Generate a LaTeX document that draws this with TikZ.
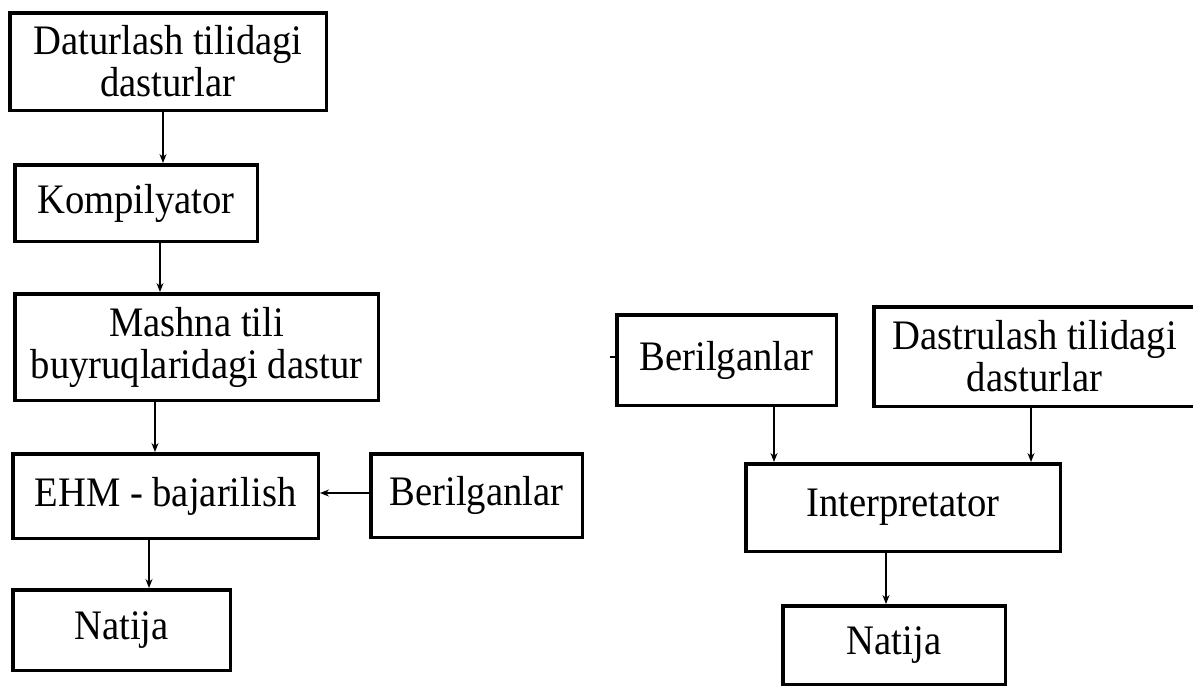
\documentclass[tikz,border=0pt]{standalone}
\usepackage{fontspec}
\setmainfont[FakeStretch=0.92]{Liberation Serif}
\usetikzlibrary{arrows.meta}
\begin{document}
\begin{tikzpicture}[x=1pt,y=-1pt,
  box/.style={draw=black,line width=3.5pt,rectangle,inner sep=0pt,align=center,
    font=\fontsize{42}{42}\selectfont},
  arr/.style={line width=1.3pt,-{Stealth[length=9pt,width=7pt]}}]
\useasboundingbox[fill=white] (0,0) rectangle (1193,688);
% left column
\node[box,minimum width=316.5pt,minimum height=97.5pt] (b1) at (168,61.5) {Daturlash tilidagi\\dasturlar};
\node[box,minimum width=242.5pt,minimum height=76.5pt] (b2) at (136,203) {Kompilyator};
\node[box,minimum width=363.5pt,minimum height=106.5pt] (b3) at (196.5,347) {Mashna tili\\buyruqlaridagi dastur};
\node[box,minimum width=305.5pt,minimum height=84.5pt] (b4) at (165.5,496) {EHM - bajarilish};
\node[box,minimum width=211.5pt,minimum height=83.5pt] (b5) at (476.5,495.5) {Berilganlar};
\node[box,minimum width=217.5pt,minimum height=80.5pt] (b6) at (121.5,630) {Natija};
% right column
\node[box,minimum width=219.5pt,minimum height=90.5pt] (r1) at (726.5,360) {Berilganlar};
\node[box,minimum width=321.5pt,minimum height=99.5pt] (r2) at (1034.5,356.5) {Dastrulash tilidagi\\dasturlar};
\node[box,minimum width=314.5pt,minimum height=87.5pt] (r3) at (903,507.5) {Interpretator};
\node[box,minimum width=222.5pt,minimum height=78.5pt] (r4) at (894,645) {Natija};
% connectors left
\draw[arr] (b1.south -| 163,0) -- (b2.north -| 163,0);
\draw[arr] (b2.south -| 160,0) -- (b3.north -| 160,0);
\draw[arr] (b3.south -| 155,0) -- (b4.north -| 155,0);
\draw[arr] (b5.west |- 0,493) -- (b4.east |- 0,493);
\draw[arr] (b4.south -| 149,0) -- (b6.north -| 149,0);
% connectors right
\draw[arr] (r1.south -| 774,0) -- (r3.north -| 774,0);
\draw[arr] (r2.south -| 1031,0) -- (r3.north -| 1031,0);
\draw[arr] (r3.south -| 886,0) -- (r4.north -| 886,0);
\draw[line width=1.3pt] (r1.west |- 0,357) -- ++(-5,0);
\end{tikzpicture}
\end{document}
